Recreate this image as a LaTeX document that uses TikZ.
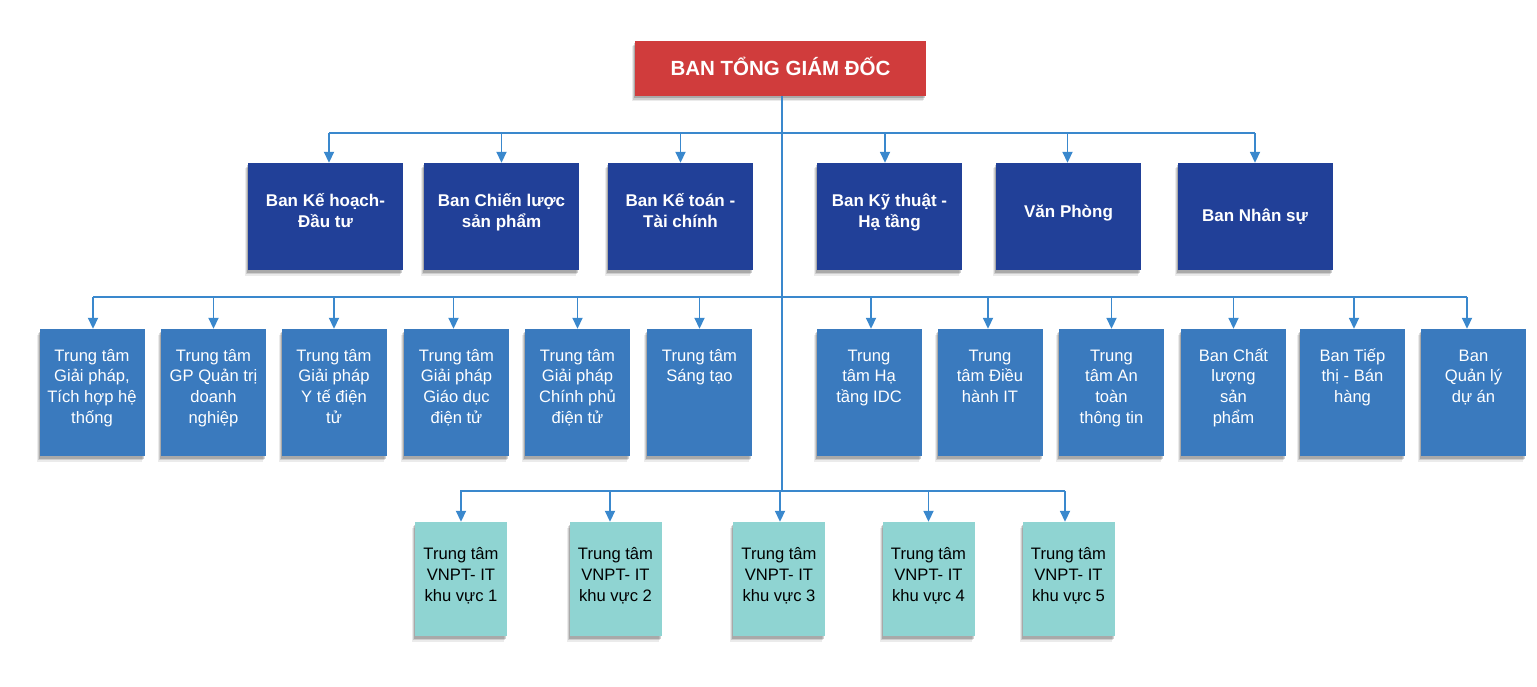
\documentclass[tikz,border=0pt]{standalone}
\usepackage{fontspec}
\setmainfont{Liberation Sans}
\usetikzlibrary{arrows.meta,shadows}
\definecolor{topred}{RGB}{208,60,60}
\definecolor{darkblue}{RGB}{33,64,152}
\definecolor{midblue}{RGB}{58,122,190}
\definecolor{boxteal}{RGB}{143,212,210}
\definecolor{linkblue}{RGB}{58,136,205}
\newcommand\firstlinestrut{\rule{0pt}{1em}}
\begin{document}
\begin{tikzpicture}[x=1pt,y=-1pt,
  box/.style={rectangle, inner sep=0pt, draw=none,
    general shadow={shadow xshift=-3pt,shadow yshift=-5.5pt,fill=black,opacity=0.08},
    general shadow={shadow xshift=-2pt,shadow yshift=-4pt,fill=black,opacity=0.12},
    general shadow={shadow xshift=-1pt,shadow yshift=-2.5pt,fill=black,opacity=0.18}},
  topbox/.style={box, fill=topred, minimum width=291pt, minimum height=55pt},
  lvla/.style={box, fill=darkblue, minimum height=107pt},
  lvlb/.style={box, fill=midblue, minimum width=105pt, minimum height=127pt},
  lvlc/.style={box, fill=boxteal, minimum width=92pt, minimum height=114pt},
  txttop/.style={anchor=north, inner sep=0pt, align=center, text=white, font=\bfseries\fontsize{20.5}{24}\selectfont},
  txta/.style={anchor=north, inner sep=0pt, align=center, text=white, font=\bfseries\fontsize{17}{21}\selectfont},
  txtb/.style={anchor=north, inner sep=0pt, align=center, text=white, font=\fontsize{16.6}{20.7}\selectfont},
  txtc/.style={anchor=north, inner sep=0pt, align=center, text=black, font=\fontsize{16.6}{21}\selectfont},
  trunk/.style={draw=linkblue, line width=2.6pt},
  bus/.style={draw=linkblue, line width=2.3pt},
  drop/.style={draw=linkblue, line width=1.8pt, -{Triangle[length=11pt,width=10pt]}}
]
\useasboundingbox (0,0) rectangle (1537,687);

% top
\node[topbox] (top) at (780.5,68.5) {};
\node[txttop] (toptxt) at ([yshift=-13.8pt]top.north) {\firstlinestrut BAN TỔNG GIÁM ĐỐC};

% level 1
\node[lvla, minimum width=155pt] (a1) at (325.5,216.5) {};
\node[lvla, minimum width=155pt] (a2) at (501.5,216.5) {};
\node[lvla, minimum width=145pt] (a3) at (680.5,216.5) {};
\node[lvla, minimum width=145pt] (a4) at (889.5,216.5) {};
\node[lvla, minimum width=145pt] (a5) at (1068.5,216.5) {};
\node[lvla, minimum width=155pt] (a6) at (1255,216.5) {};

% level 2
\foreach \n/\cx in {1/92,2/213.5,3/334,4/456.5,5/577.5,6/699.5,7/869,8/990,9/1111.5,10/1233.5,11/1352.5,12/1473.5}
  \node[lvlb] (b\n) at (\cx,392.5) {};

% level 3
\foreach \n/\cx in {1/461,2/615.5,3/779,4/928.5,5/1068.5}
  \node[lvlc] (c\n) at (\cx,579) {};

% connectors
\coordinate (bus1) at (329,133);
\coordinate (bus1r) at (1255,133);
\coordinate (bus2) at (93,297);
\coordinate (bus2r) at (1467,297);
\coordinate (bus3) at (460,491);
\coordinate (bus3r) at (1065,491);

\draw[trunk] ([xshift=1.5pt]top.south) -- ([xshift=1.5pt]top.south |- bus3);
\draw[bus] (bus1) -- (bus1r);
\draw[bus] (bus2) -- (bus2r);
\draw[bus] (bus3) -- (bus3r);

\draw[drop] ([xshift=3.5pt]a1.north |- bus1) -- ([xshift=3.5pt]a1.north);
\draw[drop] (a2.north |- bus1) -- (a2.north);
\draw[drop] (a3.north |- bus1) -- (a3.north);
\draw[drop] ([xshift=-4.5pt]a4.north |- bus1) -- ([xshift=-4.5pt]a4.north);
\draw[drop] ([xshift=-1pt]a5.north |- bus1) -- ([xshift=-1pt]a5.north);
\draw[drop] (a6.north |- bus1) -- (a6.north);

\draw[drop] ([xshift=1pt]b1.north |- bus2) -- ([xshift=1pt]b1.north);
\draw[drop] (b2.north |- bus2) -- (b2.north);
\draw[drop] (b3.north |- bus2) -- (b3.north);
\draw[drop] ([xshift=-3pt]b4.north |- bus2) -- ([xshift=-3pt]b4.north);
\draw[drop] (b5.north |- bus2) -- (b5.north);
\draw[drop] (b6.north |- bus2) -- (b6.north);
\draw[drop] ([xshift=2pt]b7.north |- bus2) -- ([xshift=2pt]b7.north);
\draw[drop] ([xshift=-2pt]b8.north |- bus2) -- ([xshift=-2pt]b8.north);
\draw[drop] (b9.north |- bus2) -- (b9.north);
\draw[drop] (b10.north |- bus2) -- (b10.north);
\draw[drop] ([xshift=1.5pt]b11.north |- bus2) -- ([xshift=1.5pt]b11.north);
\draw[drop] ([xshift=-6.5pt]b12.north |- bus2) -- ([xshift=-6.5pt]b12.north);

\draw[drop] (c1.north |- bus3) -- (c1.north);
\draw[drop] ([xshift=-5.5pt]c2.north |- bus3) -- ([xshift=-5.5pt]c2.north);
\draw[drop] ([xshift=1pt]c3.north |- bus3) -- ([xshift=1pt]c3.north);
\draw[drop] (c4.north |- bus3) -- (c4.north);
\draw[drop] ([xshift=-3.5pt]c5.north |- bus3) -- ([xshift=-3.5pt]c5.north);

% level 1 texts
\node[txta] (a1t) at ([yshift=-27pt]a1.north) {\firstlinestrut Ban Kế hoạch-\\Đầu tư};
\node[txta] (a2t) at ([yshift=-27pt]a2.north) {\firstlinestrut Ban Chiến lược\\sản phẩm};
\node[txta] (a3t) at ([yshift=-27pt]a3.north) {\firstlinestrut Ban Kế toán -\\Tài chính};
\node[txta] (a4t) at ([yshift=-27pt]a4.north) {\firstlinestrut Ban Kỹ thuật -\\Hạ tầng};
\node[txta] (a5t) at ([yshift=-38pt]a5.north) {\firstlinestrut Văn Phòng};
\node[txta] (a6t) at ([yshift=-42pt]a6.north) {\firstlinestrut Ban Nhân sự};

% level 2 texts
\node[txtb] (b1t) at ([yshift=-15.4pt]b1.north) {\firstlinestrut Trung tâm\\Giải pháp,\\Tích hợp hệ\\thống};
\node[txtb] (b2t) at ([yshift=-15.4pt]b2.north) {\firstlinestrut Trung tâm\\GP Quản trị\\doanh\\nghiệp};
\node[txtb] (b3t) at ([yshift=-15.4pt]b3.north) {\firstlinestrut Trung tâm\\Giải pháp\\Y tế điện\\tử};
\node[txtb] (b4t) at ([yshift=-15.4pt]b4.north) {\firstlinestrut Trung tâm\\Giải pháp\\Giáo dục\\điện tử};
\node[txtb] (b5t) at ([yshift=-15.4pt]b5.north) {\firstlinestrut Trung tâm\\Giải pháp\\Chính phủ\\điện tử};
\node[txtb] (b6t) at ([yshift=-15.4pt]b6.north) {\firstlinestrut Trung tâm\\Sáng tạo};
\node[txtb] (b7t) at ([yshift=-15.4pt]b7.north) {\firstlinestrut Trung\\tâm Hạ\\tầng IDC};
\node[txtb] (b8t) at ([yshift=-15.4pt]b8.north) {\firstlinestrut Trung\\tâm Điều\\hành IT};
\node[txtb] (b9t) at ([yshift=-15.4pt]b9.north) {\firstlinestrut Trung\\tâm An\\toàn\\thông tin};
\node[txtb] (b10t) at ([yshift=-15.4pt]b10.north) {\firstlinestrut Ban Chất\\lượng\\sản\\phẩm};
\node[txtb] (b11t) at ([yshift=-15.4pt]b11.north) {\firstlinestrut Ban Tiếp\\thị - Bán\\hàng};
\node[txtb] (b12t) at ([yshift=-15.4pt]b12.north) {\firstlinestrut Ban\\Quản lý\\dự án};

% level 3 texts
\foreach \n in {1,...,5}
  \node[txtc] (c\n t) at ([yshift=-20.4pt]c\n.north) {\firstlinestrut Trung tâm\\VNPT- IT\\khu vực \n};
\end{tikzpicture}
\end{document}
